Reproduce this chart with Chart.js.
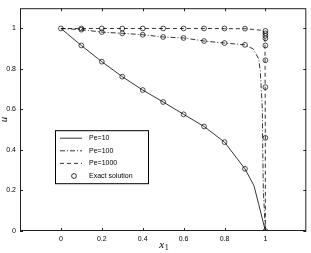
<!DOCTYPE html>
<html>
<head>
<meta charset="utf-8">
<script src="https://cdn.jsdelivr.net/npm/chart.js@4.4.1/dist/chart.umd.min.js"></script>
<style>
  html, body { margin: 0; padding: 0; background: #fff; }
  #wrap { width: 311px; height: 253px; }
</style>
</head>
<body>
<div id="wrap"><canvas id="chart" width="311" height="253"></canvas></div>
<script>
// values
const tickVals = [0, 0.2, 0.4, 0.6, 0.8, 1];

const pe10X = [0, 0.1, 0.2, 0.3, 0.4, 0.5, 0.6, 0.7, 0.8, 0.9, 0.944, 0.966, 1];
const pe10Y = [1, 0.916, 0.836, 0.762, 0.696, 0.637, 0.576, 0.516, 0.439, 0.307, 0.224, 0.137, 0];

const pe100X = [0, 0.1, 0.2, 0.3, 0.4, 0.5, 0.6, 0.7, 0.8, 0.9, 0.94, 0.967, 0.975, 0.985, 0.987, 0.99, 1];
const pe100Y = [1, 0.994, 0.982, 0.976, 0.969, 0.958, 0.953, 0.938, 0.928, 0.919, 0.899, 0.85, 0.79, 0.6, 0.4, 0.2, 0];

const pe1000X = [0, 0.1, 0.2, 0.3, 0.4, 0.5, 0.6, 0.7, 0.8, 0.9, 0.99, 0.998, 0.9995, 1];
const pe1000Y = [1, 1, 1, 1, 1, 1, 1, 1, 0.999, 0.999, 0.99, 0.95, 0.5, 0];

const exactX = [0, 0.1, 0.2, 0.3, 0.4, 0.5, 0.6, 0.7, 0.8, 0.9,
                0.1, 0.2, 0.3, 0.4, 0.5, 0.6, 0.7, 0.8, 0.9,
                0.1, 0.2, 0.3, 0.4, 0.5, 0.6, 0.7, 0.8, 0.9,
                1, 1, 1, 1, 1, 1, 1, 1, 1];
const exactY = [1, 0.916, 0.836, 0.762, 0.696, 0.637, 0.576, 0.516, 0.439, 0.307,
                0.994, 0.982, 0.976, 0.969, 0.958, 0.953, 0.938, 0.928, 0.919,
                1, 1, 1, 1, 1, 1, 1, 1, 0.999,
                0.988, 0.976, 0.964, 0.951, 0.916, 0.843, 0.71, 0.46, 0];

const legendLabels = ['Pe=10', 'Pe=100', 'Pe=1000', 'Exact solution'];

function pts(xs, ys) {
    return xs.map((x, i) => ({ x: x, y: ys[i] }));
}

const FONT = '"Liberation Sans", Arial, sans-serif';

// box, inward ticks, legend and axis labels
const matlabLook = {
    id: 'matlabLook',
    afterDraw(chart) {
        const ctx = chart.ctx;
        const a = chart.chartArea;
        const xs = chart.scales.x, ys = chart.scales.y;
        ctx.save();
        ctx.strokeStyle = '#222';
        ctx.lineWidth = 1;
        ctx.strokeRect(a.left + 0.5, a.top + 0.5, a.right - a.left - 1, a.bottom - a.top - 1);

        ctx.beginPath();
        tickVals.forEach(v => {
            const px = Math.round(xs.getPixelForValue(v)) + 0.5;
            ctx.moveTo(px, a.bottom); ctx.lineTo(px, a.bottom - 3);
            ctx.moveTo(px, a.top); ctx.lineTo(px, a.top + 3);
            const py = Math.round(ys.getPixelForValue(v)) + 0.5;
            ctx.moveTo(a.left, py); ctx.lineTo(a.left + 3, py);
            ctx.moveTo(a.right, py); ctx.lineTo(a.right - 3, py);
        });
        ctx.stroke();

        // legend
        const lx = a.left + 35, ly = a.top + 122, lw = 93, lh = 53;
        ctx.fillStyle = '#fff';
        ctx.fillRect(lx, ly, lw, lh);
        ctx.strokeStyle = '#000';
        ctx.lineWidth = 1;
        ctx.strokeRect(lx + 0.5, ly + 0.5, lw, lh);
        const dashes = [[], [5, 2, 1, 2], [4, 3]];
        ctx.font = '7px ' + FONT;
        ctx.textBaseline = 'middle';
        legendLabels.forEach((lab, i) => {
            const ry = ly + 8 + i * 12.6;
            ctx.strokeStyle = '#000';
            ctx.lineWidth = 0.8;
            if (i < 3) {
                ctx.setLineDash(dashes[i]);
                ctx.beginPath();
                ctx.moveTo(lx + 5, ry); ctx.lineTo(lx + 27, ry);
                ctx.stroke();
                ctx.setLineDash([]);
            } else {
                ctx.beginPath();
                ctx.arc(lx + 19, ry, 2.4, 0, Math.PI * 2);
                ctx.stroke();
            }
            ctx.fillStyle = '#000';
            ctx.textAlign = 'left';
            ctx.fillText(lab, lx + 34, ry);
        });

        // axis labels
        ctx.fillStyle = '#000';
        ctx.font = 'italic 11px "Liberation Serif", serif';
        ctx.textAlign = 'left';
        ctx.textBaseline = 'alphabetic';
        const cx = (a.left + a.right) / 2 - 4;
        ctx.fillText('x', cx, 248);
        ctx.font = '8px "Liberation Serif", serif';
        ctx.fillText('1', cx + 5.5, 250);

        ctx.translate(7, (a.top + a.bottom) / 2);
        ctx.rotate(-Math.PI / 2);
        ctx.font = 'italic 11px "Liberation Serif", serif';
        ctx.textAlign = 'center';
        ctx.fillText('u', 0, 0);
        ctx.restore();
    }
};

const lineStyle = {
    borderColor: '#000',
    borderWidth: 0.8,
    pointRadius: 0,
    fill: false,
    tension: 0
};

const ctx = document.getElementById('chart');
const uChart = new Chart(ctx, {
    type: 'scatter',
    data: {
        datasets: [
            Object.assign({ label: 'Pe=10', data: pts(pe10X, pe10Y), showLine: true }, lineStyle),
            Object.assign({ label: 'Pe=100', data: pts(pe100X, pe100Y), showLine: true, borderDash: [5, 2, 1, 2] }, lineStyle),
            Object.assign({ label: 'Pe=1000', data: pts(pe1000X, pe1000Y), showLine: true, borderDash: [4, 3] }, lineStyle),
            {
                label: 'Exact solution',
                data: pts(exactX, exactY),
                showLine: false,
                pointRadius: 2.4,
                pointStyle: 'circle',
                pointBackgroundColor: 'rgba(0,0,0,0)',
                pointBorderColor: '#000',
                pointBorderWidth: 0.7
            }
        ]
    },
    options: {
        responsive: false,
        animation: false,
        layout: { padding: { top: 5, right: 3, left: 0, bottom: 0 } },
        plugins: {
            legend: { display: false },
            tooltip: { enabled: false }
        },
        scales: {
            x: {
                type: 'linear',
                min: -0.2,
                max: 1.2,
                afterBuildTicks: s => { s.ticks = tickVals.map(v => ({ value: v })); },
                afterFit: s => { s.height = 22; },
                grid: { display: false, drawTicks: false },
                border: { display: false },
                ticks: {
                    padding: 4,
                    color: '#000',
                    font: { family: FONT, size: 7 },
                    callback: v => String(Math.round(v * 10) / 10)
                }
            },
            y: {
                type: 'linear',
                min: 0,
                max: 1.1,
                afterBuildTicks: s => { s.ticks = tickVals.map(v => ({ value: v })); },
                afterFit: s => { s.width = 20; },
                grid: { display: false, drawTicks: false },
                border: { display: false },
                ticks: {
                    padding: 4,
                    color: '#000',
                    font: { family: FONT, size: 7 },
                    callback: v => String(Math.round(v * 10) / 10)
                }
            }
        }
    },
    plugins: [matlabLook]
});
</script>
</body>
</html>
